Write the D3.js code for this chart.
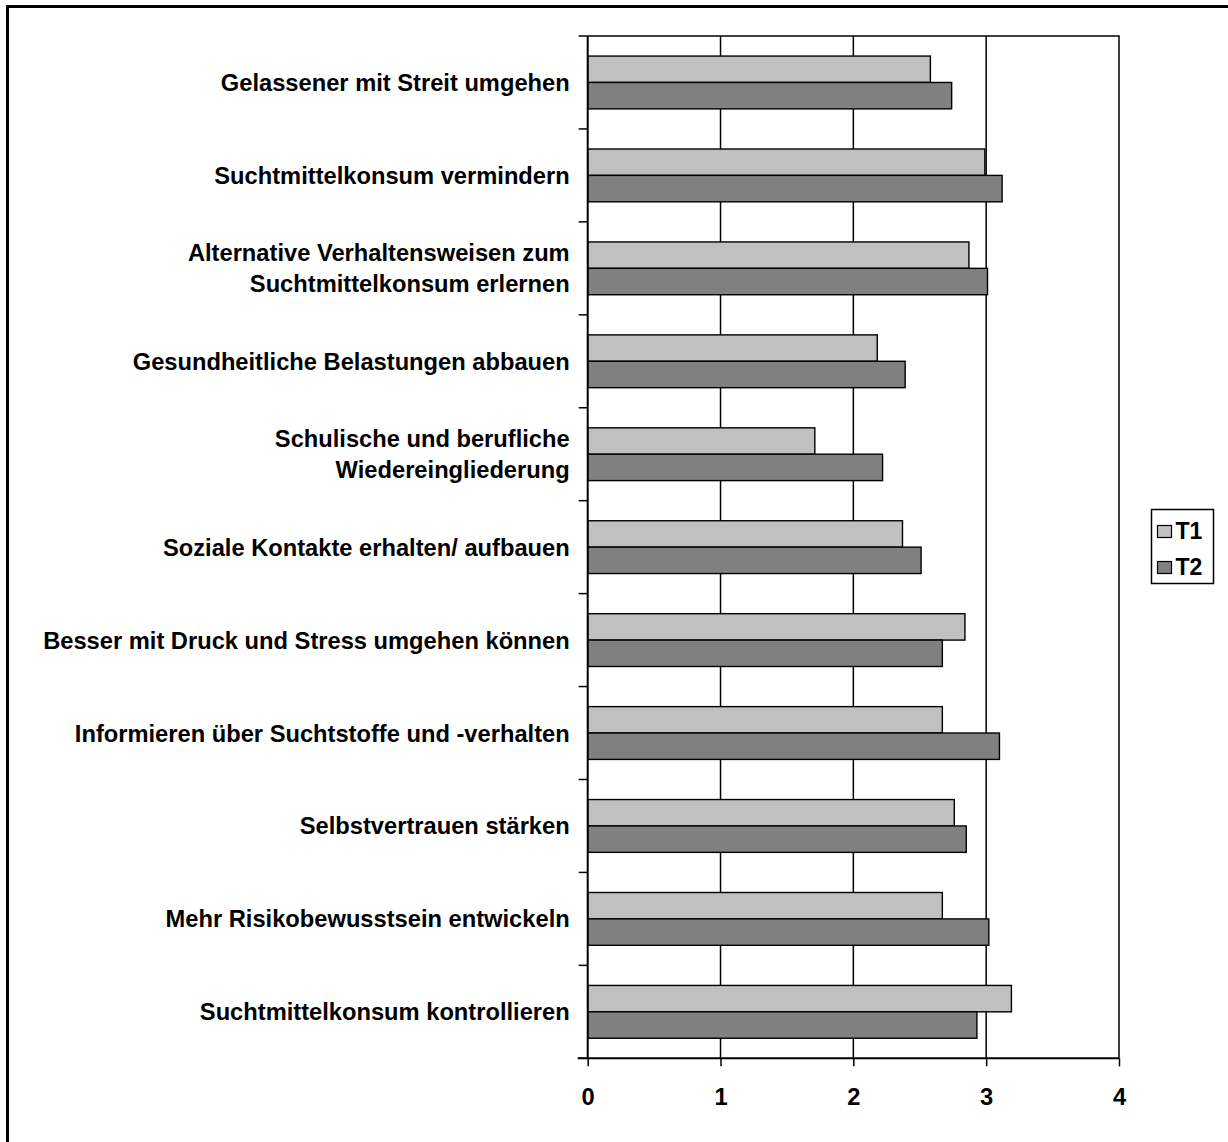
<!DOCTYPE html>
<html>
<head>
<meta charset="utf-8">
<script src="https://cdn.jsdelivr.net/npm/d3@7"></script>
<style>
  html, body { margin: 0; padding: 0; background: #fff; }
  svg { display: block; }
  text { font-family: "Liberation Sans", Arial, sans-serif; font-weight: bold; fill: #000; }
</style>
</head>
<body>
<svg id="chart" width="1228" height="1142"></svg>
<script>
// Category labels, top to bottom (multi-line labels split with "\n")
const categories = [
  "Gelassener mit Streit umgehen",
  "Suchtmittelkonsum vermindern",
  "Alternative Verhaltensweisen zum\nSuchtmittelkonsum erlernen",
  "Gesundheitliche Belastungen abbauen",
  "Schulische und berufliche\nWiedereingliederung",
  "Soziale Kontakte erhalten/ aufbauen",
  "Besser mit Druck und Stress umgehen können",
  "Informieren über Suchtstoffe und -verhalten",
  "Selbstvertrauen stärken",
  "Mehr Risikobewusstsein entwickeln",
  "Suchtmittelkonsum kontrollieren"
];

const seriesNames = ["T1", "T2"];

// Mean ratings per category
const valuesT1 = [2.58, 2.99, 2.87, 2.18, 1.71, 2.37, 2.84, 2.67, 2.76, 2.67, 3.19];
const valuesT2 = [2.74, 3.12, 3.01, 2.39, 2.22, 2.51, 2.67, 3.10, 2.85, 3.02, 2.93];

const xTicks = [0, 1, 2, 3, 4];

const colors = { T1: "#C0C0C0", T2: "#808080" };

const svg = d3.select("#chart");

// Outer frame
svg.append("rect")
  .attr("x", 7.5).attr("y", 6.5)
  .attr("width", 1400).attr("height", 1400)
  .attr("fill", "none").attr("stroke", "#000").attr("stroke-width", 3);

const plot = { left: 587.7, right: 1119, top: 36, bottom: 1058.3 };

const x = d3.scaleLinear().domain([0, 4]).range([plot.left, plot.right]);
const y = d3.scaleBand().domain(categories).range([plot.top, plot.bottom]).padding(0);
const ySub = d3.scaleBand().domain(seriesNames)
  .range([0, y.bandwidth()]).paddingInner(0).paddingOuter(0.76);

// Vertical gridlines
svg.append("g").selectAll("line")
  .data(xTicks.filter(t => t > 0 && t < 4))
  .join("line")
  .attr("x1", d => x(d)).attr("x2", d => x(d))
  .attr("y1", plot.top).attr("y2", plot.bottom)
  .attr("stroke", "#000").attr("stroke-width", 1.5);

// Plot border (top and right)
svg.append("path")
  .attr("d", `M${plot.left},${plot.top}H${plot.right}V${plot.bottom}`)
  .attr("fill", "none").attr("stroke", "#000").attr("stroke-width", 1.5);

// Bars
const rows = categories.map((c, i) => ({ cat: c, T1: valuesT1[i], T2: valuesT2[i] }));
const groups = svg.append("g").selectAll("g")
  .data(rows).join("g")
  .attr("transform", d => `translate(0,${y(d.cat)})`);

groups.selectAll("rect")
  .data(d => seriesNames.map(s => ({ s, v: d[s] })))
  .join("rect")
  .attr("x", x(0))
  .attr("y", d => ySub(d.s))
  .attr("width", d => x(d.v) - x(0))
  .attr("height", ySub.bandwidth())
  .attr("fill", d => colors[d.s])
  .attr("stroke", "#000").attr("stroke-width", 1.4);

// Left (category) axis: line + ticks at band boundaries
const bounds = categories.map(c => y(c)).concat([plot.bottom]);
svg.append("line")
  .attr("x1", plot.left).attr("x2", plot.left)
  .attr("y1", plot.top).attr("y2", plot.bottom)
  .attr("stroke", "#000").attr("stroke-width", 2);
svg.append("g").selectAll("line")
  .data(bounds).join("line")
  .attr("x1", plot.left - 9).attr("x2", plot.left)
  .attr("y1", d => d).attr("y2", d => d)
  .attr("stroke", "#000").attr("stroke-width", 1.5);

// Category labels
const labels = svg.append("g").selectAll("text")
  .data(categories).join("text")
  .attr("text-anchor", "end")
  .attr("font-size", 23.7)
  .attr("x", plot.left - 18)
  .attr("y", d => y(d) + y.bandwidth() / 2);
labels.each(function(d) {
  const lines = d.split("\n");
  const lh = 31;
  const start = -(lines.length - 1) * lh / 2;
  d3.select(this).selectAll("tspan")
    .data(lines).join("tspan")
    .attr("x", plot.left - 18)
    .attr("dy", (l, i) => i === 0 ? start + 8.5 : lh)
    .text(l => l);
});

// Bottom (value) axis
const xAxis = d3.axisBottom(x).tickValues(xTicks).tickSize(8).tickPadding(22).tickFormat(d3.format("d"));
const gx = svg.append("g")
  .attr("transform", `translate(0,${plot.bottom})`)
  .call(xAxis);
gx.select(".domain").remove();
gx.selectAll(".tick line").attr("stroke", "#000").attr("stroke-width", 1.5);
gx.selectAll(".tick text")
  .attr("font-size", 23.7)
  .attr("font-family", "'Liberation Sans', Arial, sans-serif")
  .attr("font-weight", "bold")
  .attr("fill", "#000");
svg.append("line")
  .attr("x1", plot.left - 10).attr("x2", plot.right)
  .attr("y1", plot.bottom).attr("y2", plot.bottom)
  .attr("stroke", "#000").attr("stroke-width", 2);

// Legend
const legend = svg.append("g").attr("transform", "translate(1151.5,509.5)");
legend.append("rect")
  .attr("width", 62).attr("height", 74)
  .attr("fill", "#fff").attr("stroke", "#000").attr("stroke-width", 1.5);
const items = legend.selectAll("g.item")
  .data(seriesNames).join("g")
  .attr("class", "item")
  .attr("transform", (d, i) => `translate(6,${16 + i * 36})`);
items.append("rect")
  .attr("width", 14).attr("height", 12)
  .attr("fill", d => colors[d])
  .attr("stroke", "#000").attr("stroke-width", 1.2);
items.append("text")
  .attr("x", 18).attr("y", 13)
  .attr("font-size", 23)
  .text(d => d);
</script>
</body>
</html>
